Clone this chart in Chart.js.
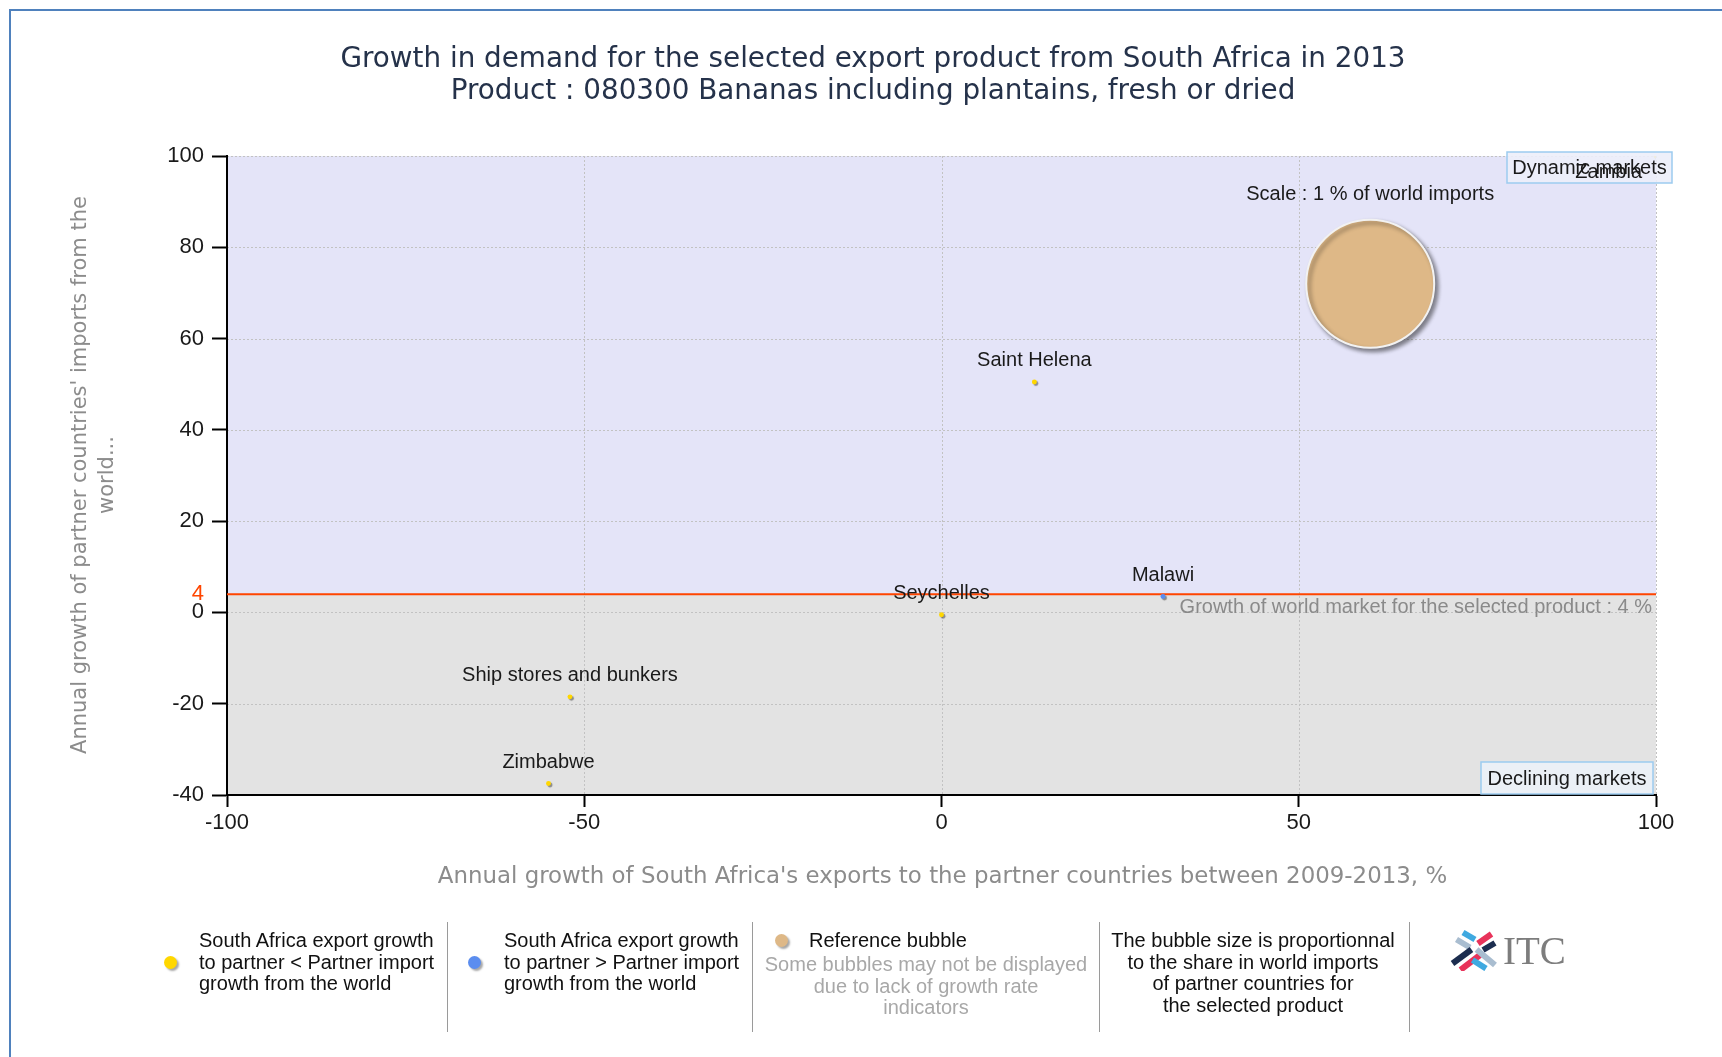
<!DOCTYPE html>
<html>
<head>
<meta charset="utf-8">
<script src="https://cdn.jsdelivr.net/npm/chart.js@4.4.0/dist/chart.umd.min.js"></script>
<style>
  body { margin: 0; width: 1722px; height: 1057px; overflow: hidden; background: #fff; font-family: 'Liberation Sans', Arial, sans-serif; }
  #frame { position: absolute; left: 9px; top: 9px; right: -5px; bottom: -5px; border-left: 2px solid #4f81bd; border-top: 2px solid #4f81bd; }
  canvas { position: absolute; left: 0; top: 0; }
  .title { position: absolute; left: 0; width: 1746px; text-align: center; font-family: 'DejaVu Sans', sans-serif; font-size: 27.8px; line-height: 32px; color: #25324a; white-space: nowrap; }
  #xtitle { position: absolute; left: 0; width: 1885px; top: 861px; text-align: center; font-family: 'DejaVu Sans', sans-serif; font-size: 22.9px; line-height: 28px; color: #8c8c8c; white-space: nowrap; }
  #ytitle { position: absolute; left: -207.5px; top: 448px; width: 600px; height: 54px; text-align: center; font-family: 'DejaVu Sans', sans-serif; font-size: 21px; line-height: 27px; color: #8c8c8c; transform: rotate(-90deg); transform-origin: 50% 50%; white-space: nowrap; }
  .leg { position: absolute; font-size: 20px; line-height: 21.5px; color: #111; white-space: nowrap; }
  .grey { color: #a8a8a8; }
  .dot { position: absolute; width: 13px; height: 13px; border-radius: 50%; box-shadow: 2px 2px 2px rgba(0,0,0,0.35); }
  .sep { position: absolute; top: 922px; width: 1px; height: 110px; background: #9a9a9a; }
  #itc { position: absolute; left: 1503px; top: 929px; font-family: 'Liberation Serif', serif; font-size: 39px; line-height: 44px; color: #7d7d7d; }
</style>
</head>
<body>
<div id="frame"></div>
<canvas id="chart" width="1722" height="1057"></canvas>

<div class="title" style="top:42px">Growth in demand for the selected export product from South Africa in 2013</div>
<div class="title" style="top:74px">Product : 080300 Bananas including plantains, fresh or dried</div>
<div id="ytitle">Annual growth of partner countries' imports from the<br>world...</div>
<div id="xtitle">Annual growth of South Africa's exports to the partner countries between 2009-2013, %</div>

<div class="dot" style="left:164px;top:956px;background:#ffd700"></div>
<div class="leg" style="left:199px;top:930px">South Africa export growth<br>to partner &lt; Partner import<br>growth from the world</div>
<div class="sep" style="left:447px"></div>
<div class="dot" style="left:468px;top:956px;background:#5b8def"></div>
<div class="leg" style="left:504px;top:930px">South Africa export growth<br>to partner &gt; Partner import<br>growth from the world</div>
<div class="sep" style="left:752px"></div>
<div class="dot" style="left:775px;top:934px;background:#deb887"></div>
<div class="leg" style="left:809px;top:930px">Reference bubble</div>
<div class="leg grey" style="left:726px;top:954px;width:400px;text-align:center">Some bubbles may not be displayed<br>due to lack of growth rate<br>indicators</div>
<div class="sep" style="left:1099px"></div>
<div class="leg" style="left:1053px;top:930px;width:400px;text-align:center">The bubble size is proportionnal<br>to the share in world imports<br>of partner countries for<br>the selected product</div>
<div class="sep" style="left:1409px"></div>
<svg style="position:absolute;left:1450px;top:929px" width="48" height="42" viewBox="0 0 48 42">
  <g stroke-width="6" stroke-linecap="butt" fill="none">
    <line x1="13" y1="3.5" x2="25" y2="10.5" stroke="#3fa9e0"/>
    <line x1="6.5" y1="10.5" x2="20" y2="18.5" stroke="#a9bdd0"/>
    <line x1="28" y1="14.5" x2="41.5" y2="5" stroke="#e8335a"/>
    <line x1="33" y1="21" x2="45" y2="14" stroke="#1c2d4f"/>
    <line x1="2.5" y1="34.5" x2="21.5" y2="20.5" stroke="#1c2d4f"/>
    <line x1="10.5" y1="41" x2="30" y2="26" stroke="#e8335a"/>
    <line x1="26.5" y1="20.5" x2="45" y2="36" stroke="#a9bdd0"/>
    <line x1="22.5" y1="31" x2="36" y2="39.5" stroke="#3fa9e0"/>
  </g>
</svg>
<div id="itc">ITC</div>

<script>
//! Chart data
const countries = ['Zambia', 'Saint Helena', 'Malawi', 'Seychelles', 'Ship stores and bunkers', 'Zimbabwe'];
const exportGrowth = [100, 13, 31, 0, -52, -55];          // x, % per year 2009-2013
const importGrowth = [100, 50.5, 3.5, -0.5, -18.5, -37.5]; // y, % per year
const exportBeatsImport = [false, false, true, false, false, false];
const worldShare = [0.0015, 0.0015, 0.0015, 0.0015, 0.0015, 0.0015]; // % of world imports
const worldGrowth = 4;
const refBubble = { x: 60, y: 72, share: 1 };
const xTicks = [-100, -50, 0, 50, 100];
const yTicks = [-40, -20, 0, 20, 40, 60, 80, 100];

const REF_R = 64;
const labelFont = "20px 'Liberation Sans', Arial, sans-serif";
const tickFont = { family: "'Liberation Sans', Arial, sans-serif", size: 22 };

function points(flag) {
    let out = [];
    countries.forEach((c, i) => {
        if (exportBeatsImport[i] === flag) {
            out.push({ x: exportGrowth[i], y: importGrowth[i], r: REF_R * Math.sqrt(worldShare[i] / refBubble.share), name: c });
        }
    });
    return out;
}

//! Background, grid, labels
const decor = {
    id: 'decor',
    beforeDraw(chart) {
        const { ctx, chartArea: a, scales: { x, y } } = chart;
        const yw = y.getPixelForValue(worldGrowth);
        ctx.save();
        ctx.fillStyle = '#e4e4f8';
        ctx.fillRect(a.left, a.top, a.width, yw - a.top);
        ctx.fillStyle = '#e3e3e3';
        ctx.fillRect(a.left, yw, a.width, a.bottom - yw);
        ctx.strokeStyle = '#c2c2c2';
        ctx.lineWidth = 1;
        ctx.setLineDash([2, 2]);
        xTicks.forEach(v => {
            if (v === x.min) return;
            const px = Math.round(x.getPixelForValue(v)) + 0.5;
            ctx.beginPath(); ctx.moveTo(px, a.top); ctx.lineTo(px, a.bottom); ctx.stroke();
        });
        yTicks.forEach(v => {
            if (v === y.min) return;
            const py = Math.round(y.getPixelForValue(v)) + 0.5;
            ctx.beginPath(); ctx.moveTo(a.left, py); ctx.lineTo(a.right, py); ctx.stroke();
        });
        ctx.restore();
    },
    beforeDatasetsDraw(chart) {
        const { ctx, chartArea: a, scales: { y } } = chart;
        const yw = y.getPixelForValue(worldGrowth);
        ctx.save();
        ctx.strokeStyle = '#ff4500';
        ctx.lineWidth = 2;
        ctx.beginPath(); ctx.moveTo(a.left, yw); ctx.lineTo(a.right, yw); ctx.stroke();
        ctx.restore();
    },
    beforeDatasetDraw(chart, args) {
        const ctx = chart.ctx;
        ctx.save();
        const big = args.index === 0;
        ctx.shadowColor = big ? 'rgba(0,0,0,0.45)' : 'rgba(0,0,0,0.4)';
        ctx.shadowOffsetX = big ? 3 : 1.5;
        ctx.shadowOffsetY = big ? 3 : 1.5;
        ctx.shadowBlur = big ? 4 : 1;
    },
    afterDatasetDraw(chart) {
        chart.ctx.restore();
    },
    afterDatasetsDraw(chart) {
        const { ctx, chartArea: a, scales: { x, y } } = chart;
        ctx.save();
        ctx.font = labelFont;
        ctx.textBaseline = 'middle';

        // world market growth note
        ctx.fillStyle = '#8a8a8a';
        ctx.textAlign = 'right';
        ctx.fillText('Growth of world market for the selected product : ' + worldGrowth + ' %', a.right - 4, y.getPixelForValue(worldGrowth) + 13);

        // reference bubble caption
        ctx.fillStyle = '#1a1a1a';
        ctx.textAlign = 'center';
        ctx.fillText('Scale : 1 % of world imports', x.getPixelForValue(refBubble.x), y.getPixelForValue(refBubble.y) - REF_R - 25);

        // quadrant boxes
        const box = (text, l, t, r, b, fill) => {
            ctx.fillStyle = fill;
            ctx.fillRect(l, t, r - l, b - t);
            ctx.strokeStyle = '#9ccbef';
            ctx.lineWidth = 1.5;
            ctx.strokeRect(l, t, r - l, b - t);
            ctx.fillStyle = '#1a1a1a';
            ctx.textAlign = 'center';
            ctx.fillText(text, (l + r) / 2, (t + b) / 2 + 1);
        };
        box('Dynamic markets', a.right - 149, a.top - 4, a.right + 16, a.top + 27, 'rgba(236,238,250,0.9)');
        box('Declining markets', a.right - 175, a.bottom - 33, a.right - 3, a.bottom - 1, '#ebf0f6');

        // country names
        ctx.fillStyle = '#1a1a1a';
        ctx.textAlign = 'center';
        countries.forEach((c, i) => {
            const w = ctx.measureText(c).width;
            let px = x.getPixelForValue(exportGrowth[i]);
            let py = y.getPixelForValue(importGrowth[i]) - 21;
            px = Math.min(px, a.right - 14 - w / 2);
            py = Math.max(py, a.top + 16);
            ctx.fillText(c, px, py);
        });
        ctx.restore();
    }
};

new Chart(document.getElementById('chart'), {
    type: 'bubble',
    data: {
        datasets: [
            {
                label: 'Reference bubble',
                data: [{ x: refBubble.x, y: refBubble.y, r: REF_R }],
                backgroundColor: '#deb887',
                borderColor: '#f2f2f2',
                borderWidth: 2
            },
            {
                label: 'export growth < import growth',
                data: points(false),
                backgroundColor: '#ffd700',
                borderWidth: 0
            },
            {
                label: 'export growth > import growth',
                data: points(true),
                backgroundColor: '#5b8def',
                borderWidth: 0
            }
        ]
    },
    options: {
        responsive: false,
        devicePixelRatio: 1,
        animation: false,
        events: [],
        layout: { padding: { left: 0, right: 60, top: 156, bottom: 202 } },
        plugins: { legend: { display: false }, tooltip: { enabled: false } },
        scales: {
            x: {
                type: 'linear', min: -100, max: 100,
                afterBuildTicks: s => { s.ticks = xTicks.map(v => ({ value: v })); },
                afterFit: s => { s.height = 60; },
                ticks: { color: '#1a1a1a', font: tickFont, padding: 3, maxRotation: 0, autoSkip: false },
                grid: { drawOnChartArea: false, drawTicks: true, tickLength: 12, tickColor: '#000', tickWidth: 2 },
                border: { display: true, color: '#000', width: 2 }
            },
            y: {
                type: 'linear', min: -40, max: 100,
                afterBuildTicks: s => {
                    s.ticks = yTicks.concat([worldGrowth]).sort((p, q) => p - q).map(v => ({ value: v }));
                },
                afterFit: s => { s.width = 227; },
                ticks: {
                    color: c => c.tick && c.tick.value === worldGrowth ? '#ff4500' : '#1a1a1a',
                    font: tickFont, padding: 8, autoSkip: false
                },
                grid: {
                    drawOnChartArea: false, drawTicks: true, tickLength: 15, tickWidth: 2,
                    tickColor: c => c.tick && c.tick.value === worldGrowth ? 'rgba(0,0,0,0)' : '#000'
                },
                border: { display: true, color: '#000', width: 2 }
            }
        }
    },
    plugins: [decor]
});
</script>
</body>
</html>
